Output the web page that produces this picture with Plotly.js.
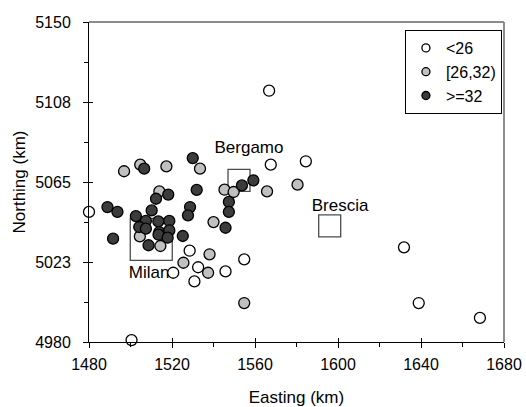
<!DOCTYPE html>
<html>
<head>
<meta charset="utf-8">
<script src="https://cdn.plot.ly/plotly-3.0.1.min.js"></script>
<style>html,body{margin:0;padding:0;background:#fff;}#chart{width:526px;height:407px;}</style>
</head>
<body>
<div id="chart"></div>
<script>
// Stations with value < 26
const lowX = [1480, 1500.5, 1566.8, 1567.6, 1584.5, 1528.5, 1520.6, 1532.6, 1530.8, 1545.8, 1554.8, 1631.8, 1638.9, 1668.4];
const lowY = [5049.1, 4981.0, 5113.5, 5074.2, 5076.0, 5028.5, 5016.8, 5019.7, 5012.2, 5017.5, 5023.9, 5030.3, 5000.7, 4992.8];
// Stations with value in [26,32)
const midX = [1496.9, 1504.7, 1517.3, 1533.5, 1513.9, 1545.3, 1549.7, 1565.8, 1580.5, 1540.0, 1504.5, 1514.4, 1525.5, 1538.1, 1537.4, 1554.8];
const midY = [5070.7, 5074.2, 5073.3, 5072.1, 5060.0, 5060.9, 5059.7, 5060.0, 5063.6, 5043.7, 5036.1, 5031.0, 5022.1, 5026.6, 5016.8, 5000.7];
// Stations with value >= 32
const highX = [1530.0, 1506.6, 1531.9, 1518.2, 1512.3, 1488.9, 1493.7, 1528.7, 1527.7, 1510.2, 1547.4, 1547.4, 1553.7, 1559.2, 1545.8, 1525.2, 1491.6,
               1502.6, 1507.4, 1513.4, 1518.7, 1504.2, 1507.4, 1513.9, 1518.7, 1513.5, 1517.9, 1508.7];
const highY = [5077.7, 5072.1, 5060.8, 5058.3, 5056.1, 5051.7, 5049.1, 5051.7, 5047.3, 5049.9, 5054.4, 5049.1, 5063.2, 5065.9, 5040.7, 5036.3, 5034.9,
               5046.9, 5044.3, 5044.1, 5044.3, 5041.1, 5040.2, 5038.4, 5039.3, 5037.0, 5035.4, 5031.4];
// Cities
const cityNames = ['Milan', 'Bergamo', 'Brescia'];
const cityX = [1510.0, 1552.3, 1596.0];
const cityY = [5034.5, 5065.9, 5041.7];
const cityLabelX = [1509.0, 1557.1, 1601.0];
const cityLabelY = [5016.3, 5082.7, 5051.7];
// Legend names
const seriesNames = ['<26', '[26,32)', '>=32'];
// Axis ticks
const yTickVals = [4980, 5022.5, 5065, 5107.5, 5150];
const yTickText = ['4980', '5023', '5065', '5108', '5150'];
const xTickVals = [1480, 1520, 1560, 1600, 1640, 1680];

const FONT = 'Arial, "Liberation Sans", sans-serif';
const fills = ['#ffffff', '#c0c0c0', '#3c3c3c'];

const traces = [];
// city boxes
traces.push({
  x: cityX, y: cityY, mode: 'markers', type: 'scatter', showlegend: false, hoverinfo: 'skip', cliponaxis: false,
  marker: {symbol: 'square', size: [42, 22, 22], color: 'rgba(0,0,0,0)', line: {color: '#000', width: 1.3}}
});
// city labels
traces.push({
  x: cityLabelX, y: cityLabelY, mode: 'text', type: 'scatter', text: cityNames, showlegend: false, hoverinfo: 'skip',
  cliponaxis: false, textfont: {family: FONT, size: 17, color: '#000'}
});
const sets = [[lowX, lowY], [midX, midY], [highX, highY]];
sets.forEach((s, i) => {
  traces.push({
    x: s[0], y: s[1], mode: 'markers', type: 'scatter', showlegend: false, cliponaxis: false,
    marker: {size: 11, color: fills[i], line: {color: '#000', width: 1.3}}
  });
});
// legend entries
sets.forEach((s, i) => {
  traces.push({
    x: [null], y: [null], mode: 'markers', type: 'scatter', name: seriesNames[i],
    marker: {size: 8, color: fills[i], line: {color: '#000', width: 1.3}}
  });
});
// empty trace to carry the crossing-tick overlay axes
traces.push({x: [null], y: [null], xaxis: 'x2', yaxis: 'y2', type: 'scatter', mode: 'markers', showlegend: false, hoverinfo: 'skip'});

const layout = {
  width: 526, height: 407,
  margin: {l: 89, r: 22, t: 22, b: 65, pad: 0},
  paper_bgcolor: '#fff', plot_bgcolor: '#fff',
  font: {family: FONT, size: 16, color: '#000'},
  showlegend: true,
  legend: {
    x: 0.995, y: 0.975, xanchor: 'right', yanchor: 'top',
    bgcolor: '#fff', bordercolor: '#000', borderwidth: 1,
    font: {family: FONT, size: 16, color: '#000'},
    itemwidth: 30, tracegroupgap: 0
  },
  xaxis: {
    range: [1480, 1680], tickvals: xTickVals, ticktext: xTickVals.map(String),
    showgrid: false, zeroline: false, showline: true, linecolor: '#000', linewidth: 1,
    ticks: 'outside', ticklen: 5, tickcolor: '#000', tickwidth: 1, ticklabelstandoff: 3,
    minor: {dtick: 20, tick0: 1480, ticks: 'outside', ticklen: 4, tickcolor: '#000', showgrid: false},
    tickfont: {family: FONT, size: 16},
    title: {text: 'Easting (km)', font: {family: FONT, size: 17}, standoff: 19}
  },
  yaxis: {
    range: [4980, 5150], tickvals: yTickVals, ticktext: yTickText,
    showgrid: false, zeroline: false, showline: true, linecolor: '#000', linewidth: 1,
    ticks: 'outside', ticklen: 5, tickcolor: '#000', tickwidth: 1, ticklabelstandoff: 9,
    minor: {dtick: 21.25, tick0: 4980, ticks: 'outside', ticklen: 4, tickcolor: '#000', showgrid: false},
    tickfont: {family: FONT, size: 16},
    title: {text: 'Northing (km)', font: {family: FONT, size: 17}, standoff: 5}
  },
  xaxis2: {
    overlaying: 'x', anchor: 'y2', range: [1480, 1680], tickvals: xTickVals, showticklabels: false,
    ticks: 'inside', ticklen: 4, tickcolor: '#000', showgrid: false, zeroline: false, showline: false
  },
  yaxis2: {
    overlaying: 'y', anchor: 'x2', range: [4980, 5150], tickvals: yTickVals, showticklabels: false,
    ticks: 'inside', ticklen: 4, tickcolor: '#000', showgrid: false, zeroline: false, showline: false
  },
  shapes: [
    {type: 'line', xref: 'paper', yref: 'paper', x0: 0, x1: 1, y0: 1, y1: 1, line: {color: '#8c8c8c', width: 2}},
    {type: 'line', xref: 'paper', yref: 'paper', x0: 1, x1: 1, y0: 0, y1: 1, line: {color: '#8c8c8c', width: 2}}
  ]
};

Plotly.newPlot('chart', traces, layout, {displayModeBar: false, staticPlot: true});
</script>
</body>
</html>
